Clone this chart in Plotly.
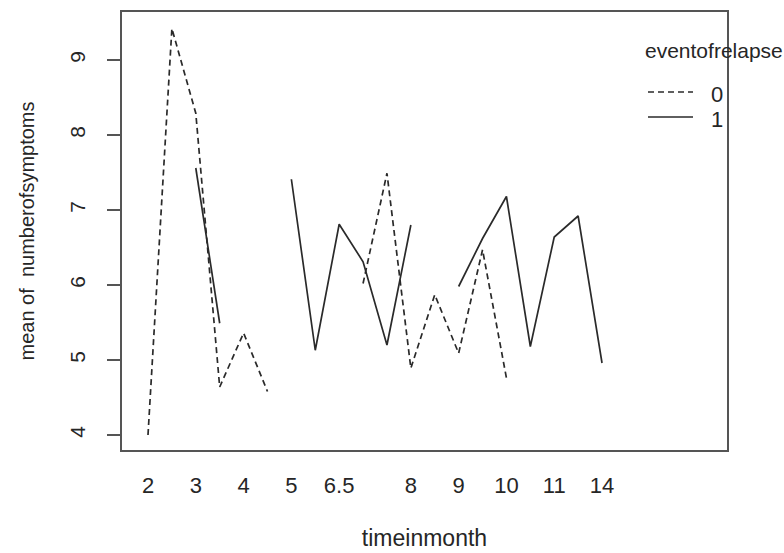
import plotly.graph_objects as go

# factor levels of timeinmonth (only some labels are drawn, as in R)
levels = ["2", "2.5", "3", "3.5", "4", "4.5", "5", "5.5", "6.5", "7", "7.5",
          "8", "8.5", "9", "9.5", "10", "10.5", "11", "12", "14"]
shown_labels = ["2", "3", "4", "5", "6.5", "8", "9", "10", "11", "14"]

# mean of numberofsymptoms by eventofrelapse group
mean_relapse0 = [4.00, 9.42, 8.29, 4.64, 5.36, 4.58, None, None, None, 6.02,
                 7.49, 4.89, 5.87, 5.09, 6.47, 4.76, None, None, None, None]
mean_relapse1 = [None, None, 7.56, 5.49, None, None, 7.41, 5.13, 6.81, 6.31,
                 5.20, 6.80, None, 5.98, 6.62, 7.18, 5.18, 6.64, 6.92, 4.96]

y_ticks = [4, 5, 6, 7, 8, 9]

FONT = "Liberation Sans, Arial, sans-serif"
TXT = "#262626"
LINE = "#2a2a2a"
DASH = "6px,4px"

fig = go.Figure()
fig.add_trace(go.Scatter(x=levels, y=mean_relapse0, mode="lines",
                         line=dict(color=LINE, width=1.7, dash=DASH),
                         connectgaps=False, showlegend=False, name="0"))
fig.add_trace(go.Scatter(x=levels, y=mean_relapse1, mode="lines",
                         line=dict(color=LINE, width=1.7),
                         connectgaps=False, showlegend=False, name="1"))

fig.update_layout(
    width=784, height=553,
    margin=dict(l=122, r=57, t=12, b=103),
    paper_bgcolor="white", plot_bgcolor="white",
    font=dict(family=FONT, size=21, color=TXT),
    xaxis=dict(type="category", categoryorder="array", categoryarray=levels,
               range=[-1.088, 24.23], tickmode="array", tickvals=shown_labels,
               ticktext=shown_labels, ticks="", showgrid=False, zeroline=False,
               showline=True, mirror=True, linecolor="#555", linewidth=1.5,
               ticklabelstandoff=15, tickfont=dict(size=22), automargin=False,
               title=dict(text="timeinmonth", standoff=33,
                          font=dict(size=23, family=FONT, color=TXT))),
    yaxis=dict(range=[3.8, 9.64], tickmode="array", tickvals=y_ticks,
               ticks="outside", ticklen=13, tickcolor="#555", tickwidth=1.5,
               tickangle=-90, showgrid=False, zeroline=False,
               showline=True, mirror=True, linecolor="#555", linewidth=1.5,
               ticklabelstandoff=14, tickfont=dict(size=21), automargin=False,
               title=dict(text="mean of  numberofsymptoms", standoff=26,
                          font=dict(size=20, family=FONT, color=TXT))),
)

# legend drawn like R's interaction.plot legend
def px_x(p):
    return (p - 122) / 605.0

def px_y(p):
    return (450 - p) / 438.0

fig.add_annotation(x=px_x(643), y=px_y(50), xref="paper", yref="paper",
                   text="eventofrelapse", showarrow=False, xanchor="left",
                   yanchor="middle", font=dict(size=21, family=FONT, color=TXT))
fig.add_annotation(x=px_x(709), y=px_y(94), xref="paper", yref="paper",
                   text="0", showarrow=False, xanchor="left", yanchor="middle",
                   font=dict(size=22, family=FONT, color=TXT))
fig.add_annotation(x=px_x(709), y=px_y(119), xref="paper", yref="paper",
                   text="1", showarrow=False, xanchor="left", yanchor="middle",
                   font=dict(size=22, family=FONT, color=TXT))
fig.add_shape(type="line", xref="paper", yref="paper",
              x0=px_x(648), x1=px_x(693), y0=px_y(92), y1=px_y(92),
              line=dict(color=LINE, width=1.7, dash=DASH))
fig.add_shape(type="line", xref="paper", yref="paper",
              x0=px_x(648), x1=px_x(693), y0=px_y(117), y1=px_y(117),
              line=dict(color=LINE, width=1.7))

fig.write_html("out.html")
